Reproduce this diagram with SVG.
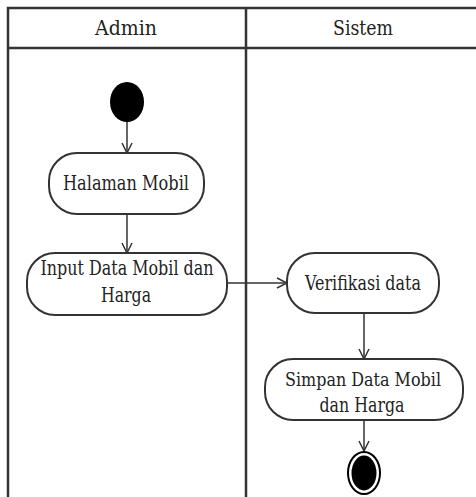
<svg xmlns="http://www.w3.org/2000/svg" width="476" height="497" viewBox="0 0 476 497">
<defs>
<style>
.lane{stroke:#333;stroke-width:2.5;fill:none}
.node rect{fill:#fff;stroke:#333;stroke-width:2}
.t{font-family:'DejaVu Serif','Liberation Serif',serif;font-size:20px;fill:#222;text-anchor:middle}
.s{font-size:18px}
.edge{stroke:#333;stroke-width:1.5;fill:none;marker-end:url(#arr)}
</style>
<marker id="arr" viewBox="0 0 12 12" refX="11" refY="6" markerWidth="12" markerHeight="12" markerUnits="userSpaceOnUse" orient="auto">
<path d="M1,1 L11,6 L1,11" fill="none" stroke="#333" stroke-width="1.5"/>
</marker>
</defs>
<rect width="476" height="497" fill="#fff"/>
<g id="swimlanes">
<path class="lane" d="M8,497 V8 H476 M8,48 H476 M246,8 V497"/>
<text class="t" x="126" y="35" textLength="62" lengthAdjust="spacingAndGlyphs">Admin</text>
<text class="t" x="363" y="35" textLength="60" lengthAdjust="spacingAndGlyphs">Sistem</text>
</g>
<g id="connectors">
<path class="edge" d="M127,122 V153"/>
<path class="edge" d="M127,214 V253"/>
<path class="edge" d="M227,283 H287"/>
<path class="edge" d="M364,313 V359"/>
<path class="edge" d="M364,420 V451"/>
</g>
<g id="start"><ellipse cx="127" cy="102" rx="17" ry="20" fill="#000"/></g>
<g id="halaman" class="node"><rect x="49" y="153" width="155" height="61" rx="28"/><text class="t" x="126" y="190" textLength="126" lengthAdjust="spacingAndGlyphs">Halaman Mobil</text></g>
<g id="input" class="node"><rect x="27" y="253" width="200" height="62" rx="28"/><text class="t" x="127" y="275" textLength="173" lengthAdjust="spacingAndGlyphs">Input Data Mobil dan</text><text class="t" x="126" y="302" textLength="50" lengthAdjust="spacingAndGlyphs">Harga</text></g>
<g id="verifikasi" class="node"><rect x="287" y="253" width="152" height="60" rx="28"/><text class="t" x="363" y="290" textLength="116" lengthAdjust="spacingAndGlyphs">Verifikasi data</text></g>
<g id="simpan" class="node"><rect x="265" y="359" width="198" height="61" rx="28"/><text class="t s" x="363" y="386" textLength="156" lengthAdjust="spacingAndGlyphs">Simpan Data Mobil</text><text class="t" x="362" y="412" textLength="85" lengthAdjust="spacingAndGlyphs">dan Harga</text></g>
<g id="end"><ellipse cx="364" cy="473" rx="16" ry="21" fill="#fff" stroke="#000" stroke-width="2"/><ellipse cx="364" cy="473" rx="12.5" ry="17.5" fill="#000"/></g>
</svg>
